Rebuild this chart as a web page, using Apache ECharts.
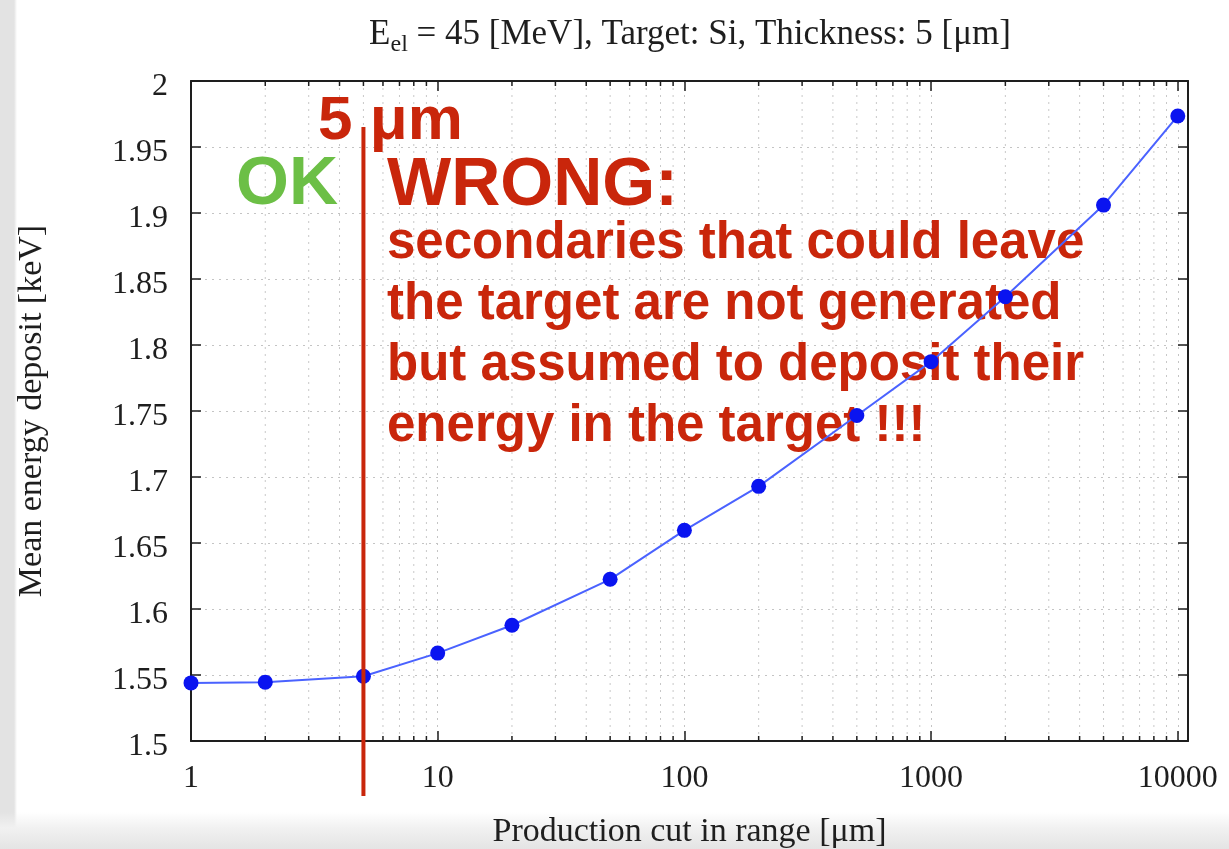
<!DOCTYPE html>
<html>
<head>
<meta charset="utf-8">
<script src="https://cdn.jsdelivr.net/npm/echarts@6/dist/echarts.min.js"></script>
<style>
html, body { margin: 0; padding: 0; }
body {
  width: 1229px;
  height: 849px;
  overflow: hidden;
  background:
    linear-gradient(to bottom, rgba(255,255,255,0) 0, rgba(255,255,255,0) 812px, #f1f1f1 828px, #e4e4e4 849px),
    linear-gradient(to right, #e3e3e3 0, #e3e3e3 14px, #ffffff 17px);
}
#chart { width: 1229px; height: 849px; }
</style>
</head>
<body>
<div id="chart"></div>
<script>
// production cut in range [um] and mean energy deposit [keV]
const cutValues = [1, 2, 5, 10, 20, 50, 100, 200, 500, 1000, 2000, 5000, 10000];
const edepValues = [1.544, 1.5446, 1.549, 1.5666, 1.5877, 1.6225, 1.6596, 1.6929, 1.7466, 1.7874, 1.8366, 1.906, 1.9735];

// minor log ticks (2..9 in each decade)
const minorTicks = [
  2, 3, 4, 5, 6, 7, 8, 9,
  20, 30, 40, 50, 60, 70, 80, 90,
  200, 300, 400, 500, 600, 700, 800, 900,
  2000, 3000, 4000, 5000, 6000, 7000, 8000, 9000
];

const thicknessCut = 5;

const serif = '"Liberation Serif", "DejaVu Serif", serif';
const sans = '"Liberation Sans", Arial, sans-serif';
const red = "#c9260b";
const green = "#6cbf46";
const ink = "#1e1e1e";

const chart = echarts.init(document.getElementById("chart"));

function renderMinor(params, api) {
  const x = api.coord([api.value(0), api.value(1)])[0];
  const cs = params.coordSys;
  const top = cs.y;
  const bot = cs.y + cs.height;
  return {
    type: "group",
    silent: true,
    children: [
      { type: "line", shape: { x1: x, y1: top, x2: x, y2: bot }, style: { stroke: "#c8c8c8", lineWidth: 1, lineDash: [2, 5] } },
      { type: "line", shape: { x1: x, y1: bot - 5, x2: x, y2: bot }, style: { stroke: ink, lineWidth: 1.5 } },
      { type: "line", shape: { x1: x, y1: top, x2: x, y2: top + 5 }, style: { stroke: ink, lineWidth: 1.5 } },
    ],
  };
}

const axisLine = { show: true, onZero: false, lineStyle: { color: ink, width: 2 } };
const axisTick = { show: true, inside: true, length: 10, lineStyle: { color: ink, width: 1.5 } };
const gridLine = { show: true, lineStyle: { color: "#c4c4c4", width: 1, type: [2, 5] } };

const option = {
  animation: false,
  title: {
    text: "E{sub|el} = 45 [MeV], Target: Si, Thickness: 5 [μm]",
    left: 685,
    top: 8,
    textAlign: "center",
    textStyle: {
      fontFamily: serif,
      fontSize: 35,
      fontWeight: "normal",
      color: ink,
      rich: {
        sub: { fontFamily: serif, fontSize: 24, color: ink, padding: [20, 0, 0, 0] },
      },
    },
  },
  grid: { left: 191, right: 41, top: 81, bottom: 108, outerBoundsMode: "none", containLabel: false },
  xAxis: [
    {
      type: "log",
      logBase: 10,
      min: 1,
      max: 11000,
      position: "bottom",
      name: "Production cut in range [μm]",
      nameLocation: "middle",
      nameGap: 74,
      nameTextStyle: { fontFamily: serif, fontSize: 34, color: ink },
      axisLine: axisLine,
      axisTick: axisTick,
      axisLabel: {
        margin: 22,
        fontFamily: serif,
        fontSize: 32,
        color: ink,
        showMaxLabel: false,
        formatter: (v) => String(Math.round(v)),
      },
      splitLine: gridLine,
    },
    {
      type: "log",
      logBase: 10,
      min: 1,
      max: 11000,
      position: "top",
      axisLine: axisLine,
      axisTick: axisTick,
      axisLabel: { show: false },
      splitLine: { show: false },
    },
  ],
  yAxis: [
    {
      type: "value",
      min: 1.5,
      max: 2,
      interval: 0.05,
      position: "left",
      name: "Mean energy deposit [keV]",
      nameLocation: "middle",
      nameGap: 142,
      nameTextStyle: { fontFamily: serif, fontSize: 34, color: ink },
      axisLine: axisLine,
      axisTick: axisTick,
      axisLabel: {
        margin: 23,
        fontFamily: serif,
        fontSize: 32,
        color: ink,
        verticalAlign: "top",
        lineHeight: 12,
        formatter: (v) => String(+v.toFixed(2)),
      },
      splitLine: gridLine,
    },
    {
      type: "value",
      min: 1.5,
      max: 2,
      interval: 0.05,
      position: "right",
      axisLine: axisLine,
      axisTick: axisTick,
      axisLabel: { show: false },
      splitLine: { show: false },
    },
  ],
  series: [
    {
      type: "custom",
      z: 0,
      silent: true,
      renderItem: renderMinor,
      data: minorTicks.map((v) => [v, 1.5]),
    },
    {
      type: "line",
      z: 5,
      data: cutValues.map((c, i) => [c, edepValues[i]]),
      symbol: "circle",
      symbolSize: 15,
      lineStyle: { color: "#4a62ff", width: 2 },
      itemStyle: { color: "#0a14f0" },
    },
  ],
};

chart.setOption(option);

const cutX = chart.convertToPixel({ xAxisIndex: 0 }, thicknessCut);

chart.setOption({
  graphic: [
    {
      type: "line",
      z: 10,
      shape: { x1: cutX, y1: 127, x2: cutX, y2: 796 },
      style: { stroke: red, lineWidth: 4 },
    },
    {
      type: "text",
      z: 3,
      left: 318,
      top: 91,
      style: { text: "5 μm", font: "bold 62px " + sans, fill: red },
    },
    {
      type: "text",
      z: 3,
      left: 236,
      top: 151,
      style: { text: "OK", font: "bold 68px " + sans, fill: green },
    },
    {
      type: "text",
      z: 3,
      left: 387,
      top: 152,
      style: { text: "WRONG:", font: "bold 68px " + sans, fill: red },
    },
    {
      type: "text",
      z: 3,
      left: 387,
      top: 213,
      style: {
        text: "secondaries that could leave\nthe target are not generated\nbut assumed to deposit their\nenergy in the target !!!",
        font: "bold 51px " + sans,
        lineHeight: 61,
        fill: red,
      },
    },
  ],
});
</script>
</body>
</html>
